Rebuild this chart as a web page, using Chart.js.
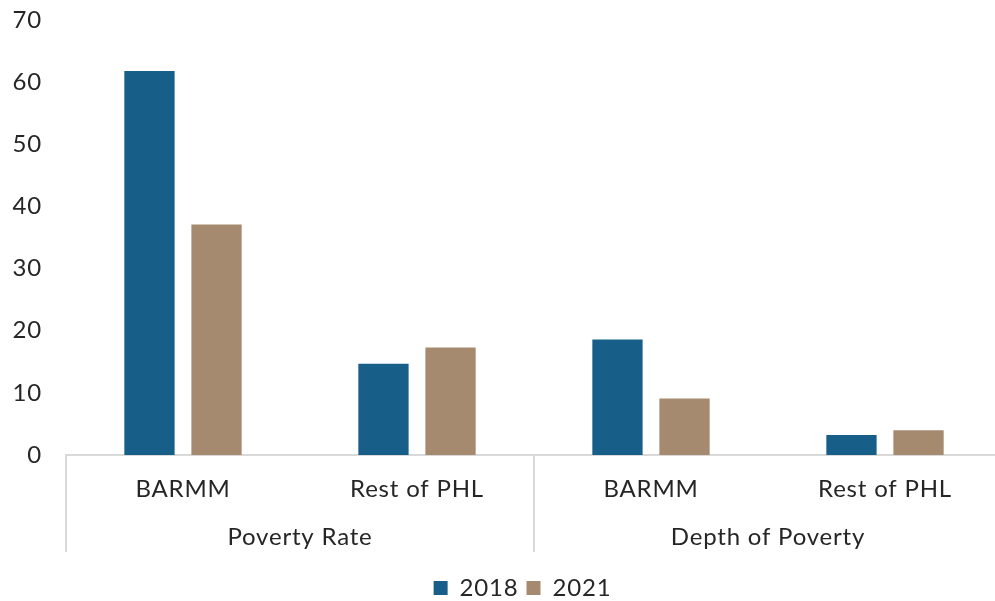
<!DOCTYPE html>
<html lang="en">
<head>
    <meta charset="UTF-8">
    <title>Poverty Rate and Depth</title>
    <script src="https://cdn.jsdelivr.net/npm/chart.js@4.4.1/dist/chart.umd.min.js"></script>
    <style>
        html, body { margin: 0; padding: 0; background: #fff; overflow: hidden; }
        #wrap { width: 1002px; height: 610px; position: relative; }
    </style>
</head>
<body>
    <div id="wrap"><canvas id="myChart"></canvas></div>
    <script>
        // sub categories and their groups
        const regions = ['BARMM', 'Rest of PHL', 'BARMM', 'Rest of PHL'];
        const groups = ['Poverty Rate', 'Depth of Poverty'];
        const values2018 = [61.8, 14.7, 18.6, 3.2];
        const values2021 = [37.1, 17.3, 9.1, 4.0];
        const yTicks = [0, 10, 20, 30, 40, 50, 60, 70];

        const fontFam = 'Lato, "Open Sans", sans-serif';
        const fontSize = 24;
        const spacing = '0.8px';
        const txtColor = '#262626';
        const lineColor = '#d9d9d9';

        // slightly wider text, closer to the original font
        const spacingPlugin = {
            id: 'spacing',
            beforeLayout(chart) { chart.ctx.letterSpacing = spacing; },
            beforeDraw(chart) { chart.ctx.letterSpacing = spacing; },
            afterLayout(chart) {
                // legend sits a bit right of centre in the original
                chart.legend.left += 43;
            }
        };

        // draws the second level of the category axis + separators
        const groupAxis = {
            id: 'groupAxis',
            afterDraw(chart) {
                const ctx = chart.ctx;
                const x = chart.scales.x;
                const top = x.top;
                const bottom = top + 97;
                const per = regions.length / groups.length;
                ctx.save();
                ctx.strokeStyle = lineColor;
                ctx.lineWidth = 2;
                for (let g = 0; g < groups.length; g++) {
                    const left = x.getPixelForValue(g * per - 0.5);
                    ctx.beginPath();
                    ctx.moveTo(left, top);
                    ctx.lineTo(left, bottom);
                    ctx.stroke();
                }
                ctx.fillStyle = txtColor;
                ctx.font = fontSize + 'px ' + fontFam;
                ctx.textAlign = 'center';
                ctx.textBaseline = 'middle';
                groups.forEach((g, i) => {
                    const cx = x.getPixelForValue(i * per + (per - 1) / 2);
                    ctx.fillText(g, cx, top + 82);
                });
                ctx.restore();
            }
        };

        const ctx = document.getElementById('myChart').getContext('2d');
        const myChart = new Chart(ctx, {
            type: 'bar',
            data: {
                labels: regions,
                datasets: [
                    {
                        label: '2018',
                        data: values2018,
                        backgroundColor: '#175e89',
                        categoryPercentage: 0.573,
                        barPercentage: 0.75
                    },
                    {
                        label: '2021',
                        data: values2021,
                        backgroundColor: '#a68a6f',
                        categoryPercentage: 0.573,
                        barPercentage: 0.75
                    }
                ]
            },
            options: {
                responsive: true,
                maintainAspectRatio: false,
                animation: false,
                layout: { padding: { top: 20, left: 0, right: 0, bottom: 0 } },
                plugins: {
                    legend: {
                        position: 'bottom',
                        labels: {
                            font: { family: fontFam, size: fontSize },
                            color: txtColor,
                            boxWidth: 14,
                            boxHeight: 14,
                            padding: 8
                        }
                    },
                    tooltip: { enabled: false }
                },
                scales: {
                    x: {
                        grid: { display: false, tickLength: 8 },
                        border: { display: true, color: lineColor, width: 2 },
                        ticks: {
                            font: { family: fontFam, size: fontSize },
                            color: txtColor,
                            padding: 12,
                            maxRotation: 0
                        },
                        afterFit(scale) { scale.height = 113; }
                    },
                    y: {
                        min: 0,
                        max: 70,
                        grid: { display: false, tickLength: 24 },
                        border: { display: false },
                        afterBuildTicks(scale) {
                            scale.ticks = yTicks.map(v => ({ value: v }));
                        },
                        ticks: {
                            font: { family: fontFam, size: fontSize },
                            color: txtColor,
                            padding: 0
                        },
                        afterFit(scale) { scale.width = 66; }
                    }
                }
            },
            plugins: [spacingPlugin, groupAxis]
        });
    </script>
</body>
</html>
